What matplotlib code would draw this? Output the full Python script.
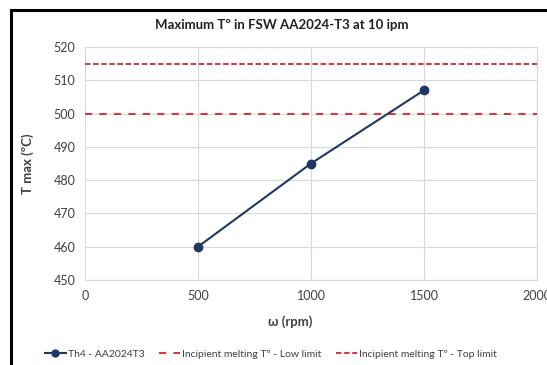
import matplotlib
matplotlib.use("Agg")
import matplotlib.pyplot as plt
from matplotlib.lines import Line2D
from matplotlib.patches import Rectangle

plt.rcParams['font.family'] = ['Lato', 'DejaVu Sans']

# data
rpm = [500, 1000, 1500]
t_max = [460, 485, 507]
low_limit = 500
top_limit = 515
x_ticks = [0, 500, 1000, 1500, 2000]
y_ticks = [450, 460, 470, 480, 490, 500, 510, 520]

W, H = 547, 365
fig = plt.figure(figsize=(W / 100, H / 100), dpi=100)
ax = fig.add_axes([85 / W, 1 - 280 / H, (537 - 85) / W, (280 - 47) / H])

line_col = '#1F3864'
red = '#E02020'
txt = '#404040'

ax.plot(rpm, t_max, color=line_col, lw=1.5, marker='o', markersize=6, zorder=3)
ax.axhline(low_limit, color=red, lw=1.3, dashes=(4, 4), zorder=2)
ax.axhline(top_limit, color=red, lw=1.3, dashes=(3, 1.5), zorder=2)

ax.set_xlim(0, 2000)
ax.set_ylim(450, 520)
ax.set_xticks(x_ticks)
ax.set_yticks(y_ticks)
ax.grid(True, color='#D9D9D9', lw=0.8)
ax.set_axisbelow(True)
for s in ['top', 'left']:
    ax.spines[s].set_visible(False)
ax.spines['right'].set_color('#D9D9D9')
ax.spines['bottom'].set_color('#D9D9D9')
ax.tick_params(length=0, labelsize=9, colors=txt, pad=7)

fig.text(0.53, 1 - 322 / H, 'ω (rpm)', ha='center', va='center',
         fontsize=9.5, fontweight='bold', color=txt)
ax.set_ylabel('T max (ºC)', fontsize=9.5, fontweight='bold', color=txt, labelpad=14)
fig.text(0.515, 1 - 25 / H, 'Maximum Tº in FSW AA2024-T3 at 10 ipm',
         ha='center', va='center', fontsize=9.5, fontweight='bold', color='#202020')

handles = [
    Line2D([], [], color=line_col, lw=1.5, marker='o', markersize=5),
    Line2D([], [], color=red, lw=1.3, dashes=(4, 4)),
    Line2D([], [], color=red, lw=1.3, dashes=(3, 1.5)),
]
labels = ['Th4 - AA2024T3', 'Incipient melting Tº - Low limit',
          'Incipient melting Tº - Top limit']
fig.legend(handles, labels, loc='center', bbox_to_anchor=(0.495, 1 - 354 / H),
           ncol=3, frameon=False, fontsize=7.5, handlelength=2.0,
           handletextpad=0.2, columnspacing=1.4, labelcolor=txt,
           borderpad=0)

# outer chart border (cropped on right and bottom)
fig.patches.append(Rectangle((11 / W, -0.1), 1.2, 1.1 - 10 / H,
                             transform=fig.transFigure, fill=False,
                             edgecolor='black', lw=2.2))

fig.savefig('out.png', dpi=100)
